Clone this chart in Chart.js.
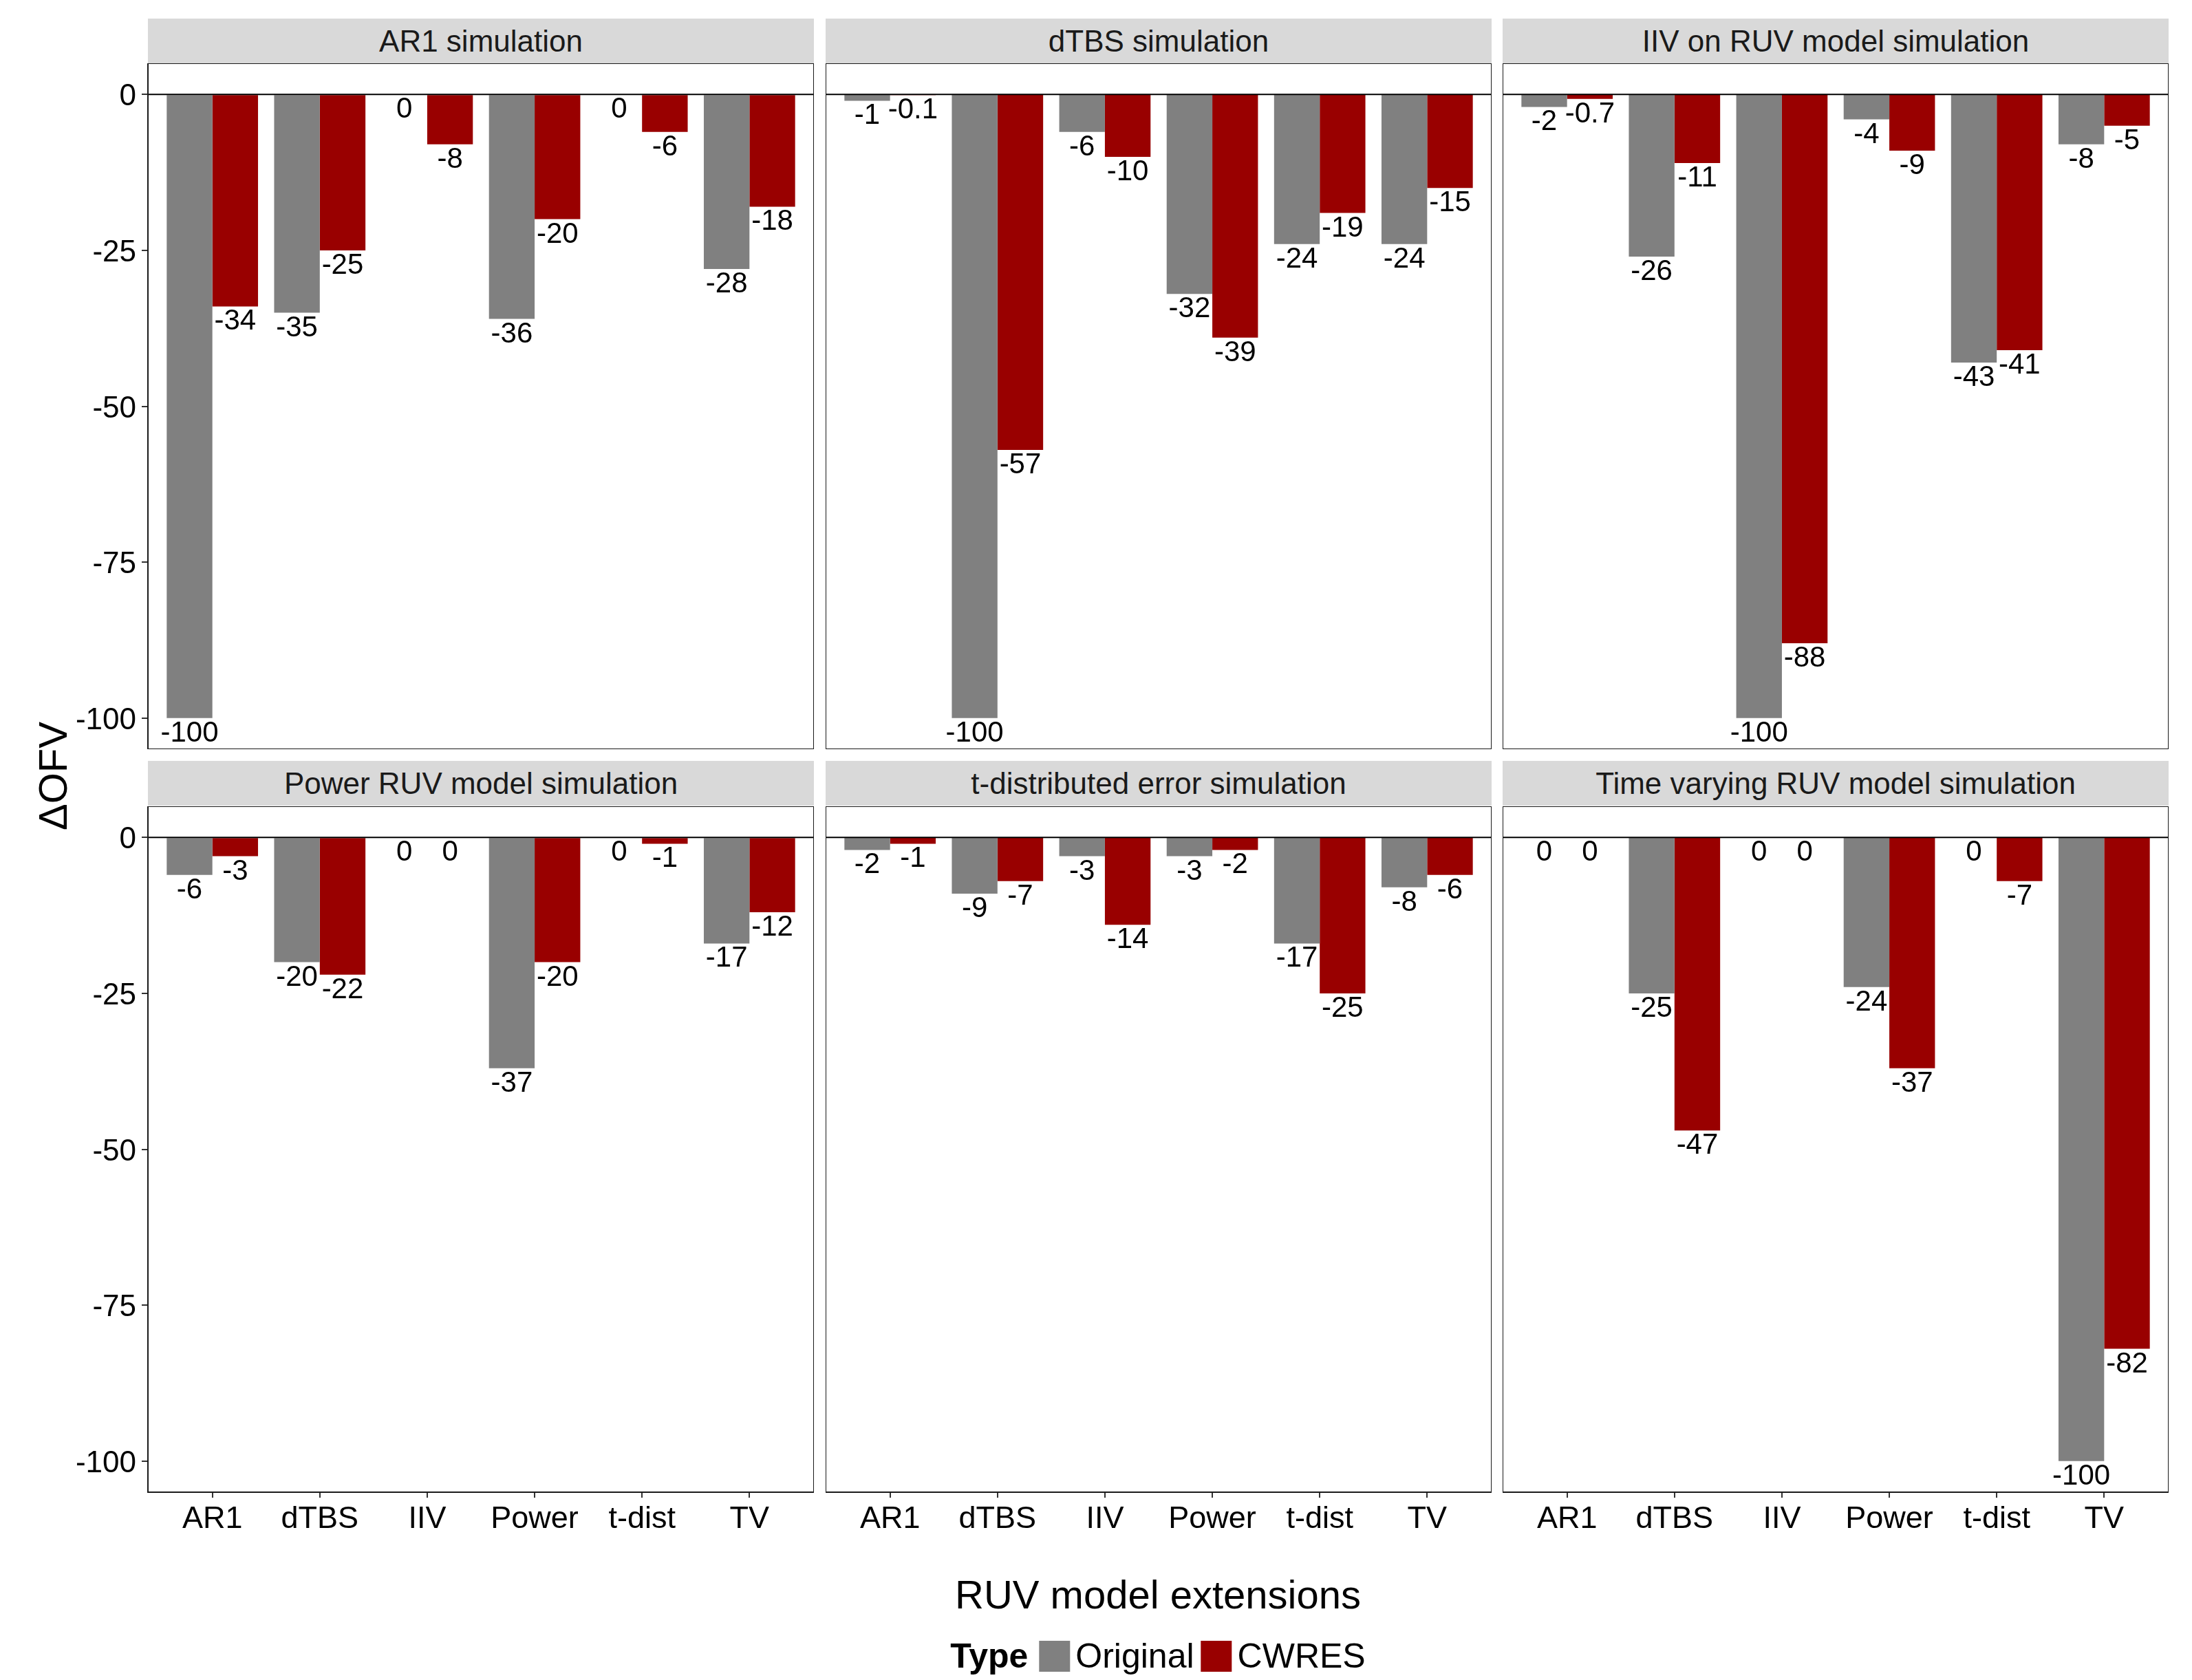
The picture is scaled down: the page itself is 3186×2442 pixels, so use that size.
<!DOCTYPE html>
<html>
<head>
<meta charset="utf-8">
<title>Delta OFV by RUV model extension</title>
<script src="https://cdn.jsdelivr.net/npm/chart.js@4.4.1/dist/chart.umd.min.js"></script>
<style>
  html, body { margin: 0; padding: 0; background: #fff; }
  #page { position: relative; width: 3186px; height: 2442px; background: #fff; overflow: hidden;
          font-family: "Liberation Sans", Arial, sans-serif; color: #000; }
  .strip { position: absolute; background: #d9d9d9; color: #1a1a1a; font-size: 44px;
           text-align: center; white-space: nowrap; }
  .panel { position: absolute; }
  .centered { position: absolute; transform: translate(-50%, -50%); white-space: nowrap; line-height: 1; }
  #ytitle { font-size: 58px; transform: translate(-50%, -50%) rotate(-90deg); }
  #xtitle { font-size: 58px; }
  #legend { display: flex; align-items: center; font-size: 50px; }
  #legend .key { width: 45px; height: 45px; }
</style>
</head>
<body>
<div id="page">
  <div id="ytitle" class="centered">ΔOFV</div>
  <div id="xtitle" class="centered">RUV model extensions</div>
  <div id="legend" class="centered">
    <b style="margin-right:16px">Type</b>
    <span class="key" style="background:#808080;margin-right:8px"></span>
    <span style="margin-right:10px">Original</span>
    <span class="key" style="background:#990000;margin-right:8px"></span>
    <span>CWRES</span>
  </div>
</div>
<script>
// categories and series
const categories = ['AR1', 'dTBS', 'IIV', 'Power', 't-dist', 'TV'];
const panelTitles = ['AR1 simulation', 'dTBS simulation', 'IIV on RUV model simulation',
                     'Power RUV model simulation', 't-distributed error simulation', 'Time varying RUV model simulation'];
const seriesNames = ['Original', 'CWRES'];
const seriesColors = ['#808080', '#990000'];
const yTicks = [-100, -75, -50, -25, 0];

// values (delta OFV)
const ar1Original   = [-100, -35, 0, -36, 0, -28];
const ar1Cwres      = [-34, -25, -8, -20, -6, -18];
const dtbsOriginal  = [-1, -100, -6, -32, -24, -24];
const dtbsCwres     = [-0.1, -57, -10, -39, -19, -15];
const iivOriginal   = [-2, -26, -100, -4, -43, -8];
const iivCwres      = [-0.7, -11, -88, -9, -41, -5];
const powerOriginal = [-6, -20, 0, -37, 0, -17];
const powerCwres    = [-3, -22, 0, -20, -1, -12];
const tdistOriginal = [-2, -9, -3, -3, -17, -8];
const tdistCwres    = [-1, -7, -14, -2, -25, -6];
const tvOriginal    = [0, -25, 0, -24, 0, -100];
const tvCwres       = [0, -47, 0, -37, -7, -82];

const panelData = [
  [ar1Original, ar1Cwres], [dtbsOriginal, dtbsCwres], [iivOriginal, iivCwres],
  [powerOriginal, powerCwres], [tdistOriginal, tdistCwres], [tvOriginal, tvCwres]
];

// layout (px)
const panelLeft = [215, 1200, 2184];
const panelWidth = 968;
const stripTop = [27, 1106];
const stripHeight = 65;
const plotTop = [92, 1172];
const plotHeight = 997;
const yAxisWidth = 215;
const xAxisHeight = 80;
const fontFamily = '"Liberation Sans", Arial, sans-serif';

const page = document.getElementById('page');
document.getElementById('ytitle').style.cssText += 'left:77px;top:1128px;';
document.getElementById('xtitle').style.cssText += 'left:1683px;top:2318px;';
document.getElementById('legend').style.cssText += 'left:1683px;top:2407px;';

// zero line, value labels and panel border
const panelFrame = {
  id: 'panelFrame',
  afterDatasetsDraw(chart) {
    const ctx = chart.ctx;
    const a = chart.chartArea;
    const y0 = chart.scales.y.getPixelForValue(0);
    ctx.save();
    ctx.strokeStyle = '#000';
    ctx.lineWidth = 2;
    ctx.beginPath();
    ctx.moveTo(a.left, y0);
    ctx.lineTo(a.right, y0);
    ctx.stroke();

    ctx.fillStyle = '#000';
    ctx.font = '42px ' + fontFamily;
    ctx.textAlign = 'center';
    ctx.textBaseline = 'alphabetic';
    chart.data.datasets.forEach((ds, i) => {
      chart.getDatasetMeta(i).data.forEach((bar, j) => {
        ctx.fillText(String(ds.data[j].y), bar.x, bar.y + 34);
      });
    });

    ctx.strokeStyle = '#1a1a1a';
    ctx.lineWidth = 2;
    ctx.strokeRect(a.left, a.top, a.right - a.left, a.bottom - a.top);
    ctx.restore();
  }
};

panelTitles.forEach((title, p) => {
  const row = Math.floor(p / 3);
  const col = p % 3;
  const showX = row === 1;
  const showY = col === 0;

  const strip = document.createElement('div');
  strip.className = 'strip';
  strip.textContent = title;
  strip.style.left = panelLeft[col] + 'px';
  strip.style.top = stripTop[row] + 'px';
  strip.style.width = panelWidth + 'px';
  strip.style.height = stripHeight + 'px';
  strip.style.lineHeight = stripHeight + 'px';
  page.appendChild(strip);

  const leftPad = showY ? yAxisWidth : 0;
  const bottomPad = showX ? xAxisHeight : 0;
  const canvas = document.createElement('canvas');
  canvas.className = 'panel';
  canvas.width = panelWidth + leftPad;
  canvas.height = plotHeight + bottomPad;
  canvas.style.left = (panelLeft[col] - leftPad) + 'px';
  canvas.style.top = plotTop[row] + 'px';
  page.appendChild(canvas);

  new Chart(canvas, {
    type: 'bar',
    data: {
      datasets: seriesNames.map((name, s) => ({
        label: name,
        data: categories.map((c, k) => ({ x: k + 1, y: panelData[p][s][k] })),
        backgroundColor: seriesColors[s],
        borderWidth: 0,
        categoryPercentage: 0.85,
        barPercentage: 1
      }))
    },
    options: {
      responsive: false,
      animation: false,
      layout: { padding: 0, autoPadding: false },
      plugins: { legend: { display: false }, tooltip: { enabled: false } },
      scales: {
        x: {
          type: 'linear',
          min: 0.4,
          max: 6.6,
          offset: false,
          display: showX,
          afterBuildTicks: s => { s.ticks = categories.map((c, k) => ({ value: k + 1 })); },
          afterFit: s => { s.height = bottomPad; s.paddingLeft = 0; s.paddingRight = 0; },
          ticks: {
            callback: v => categories[v - 1],
            font: { size: 45, family: fontFamily },
            color: '#000',
            padding: 5,
            maxRotation: 0,
            autoSkip: false
          },
          grid: { offset: false, drawOnChartArea: false, drawTicks: true, tickLength: 8, color: '#333', lineWidth: 2 },
          border: { display: false }
        },
        y: {
          type: 'linear',
          min: -105,
          max: 5,
          display: showY,
          afterBuildTicks: s => { s.ticks = yTicks.map(v => ({ value: v })); },
          afterFit: s => { s.width = leftPad; s.paddingTop = 0; s.paddingBottom = 0; },
          ticks: {
            font: { size: 44, family: fontFamily },
            color: '#000',
            padding: 8,
            labelOffset: 4
          },
          grid: { drawOnChartArea: false, drawTicks: true, tickLength: 9, color: '#333', lineWidth: 2 },
          border: { display: false }
        }
      }
    },
    plugins: [panelFrame]
  });
});
</script>
</body>
</html>
